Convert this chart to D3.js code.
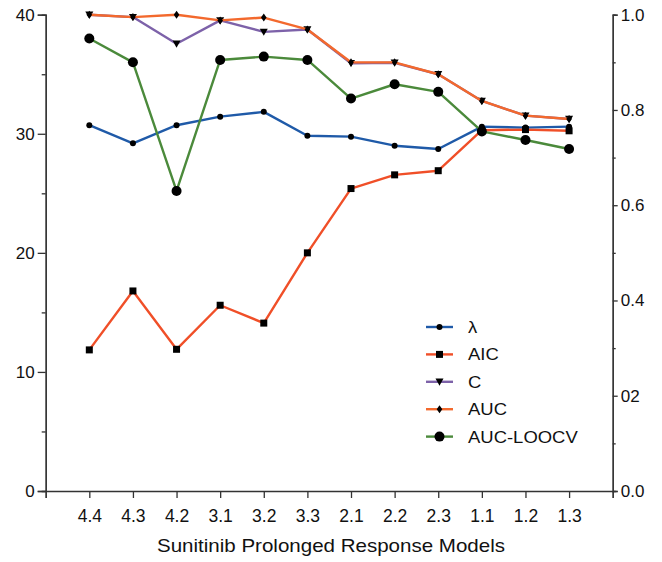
<!DOCTYPE html>
<html>
<head>
<meta charset="utf-8">
<script src="https://cdn.jsdelivr.net/npm/d3@7"></script>
<style>
  body { margin: 0; background: #fff; }
  text { font-family: "Liberation Sans", Arial, sans-serif; fill: #111; }
</style>
</head>
<body>
<svg width="662" height="562"></svg>
<script>
var models = ["4.4", "4.3", "4.2", "3.1", "3.2", "3.3", "2.1", "2.2", "2.3", "1.1", "1.2", "1.3"];

// left axis (AIC)
var aic = [11.85, 16.8, 11.9, 15.6, 14.1, 20.0, 25.4, 26.55, 26.9, 30.3, 30.35, 30.25];
// right axis (0-1)
var lambda = [0.768, 0.730, 0.768, 0.786, 0.796, 0.746, 0.744, 0.725, 0.718, 0.765, 0.763, 0.765];
var cIndex = [1.0, 0.995, 0.939, 0.988, 0.964, 0.969, 0.898, 0.899, 0.875, 0.819, 0.788, 0.781];
var auc = [1.0, 0.995, 1.0, 0.988, 0.994, 0.969, 0.900, 0.900, 0.875, 0.819, 0.788, 0.781];
var aucLoocv = [0.950, 0.900, 0.630, 0.905, 0.912, 0.905, 0.824, 0.854, 0.838, 0.755, 0.737, 0.718];

var leftTicks = [0, 10, 20, 30, 40];
var rightTicks = [0, 0.2, 0.4, 0.6, 0.8, 1.0];
var rightTickLabels = ["0.0", "02", "0.4", "0.6", "0.8", "1.0"];

var series = [
  {name: "λ", values: lambda, axis: "right", color: "#1f5aa8", marker: "circle", size: 3},
  {name: "AIC", values: aic, axis: "left", color: "#f04f28", marker: "square", size: 7},
  {name: "C", values: cIndex, axis: "right", color: "#7d62a9", marker: "triangle", size: 8},
  {name: "AUC", values: auc, axis: "right", color: "#f3692d", marker: "diamond", size: 4},
  {name: "AUC-LOOCV", values: aucLoocv, axis: "right", color: "#4b8a3b", marker: "circle", size: 5}
];

var svg = d3.select("svg");
var x0 = 45.7, x1 = 612.7, yTop = 14.7, yBot = 491;

var x = d3.scaleLinear().domain([0, models.length + 1]).range([x0, x1]);
var yL = d3.scaleLinear().domain([0, 40]).range([yBot, yTop]);
var yR = d3.scaleLinear().domain([0, 1]).range([yBot, yTop]);

var axisColor = "#333";

// left axis
var gL = svg.append("g").attr("transform", "translate(" + x0 + ",0)");
gL.call(d3.axisLeft(yL).tickValues(leftTicks).tickSize(8).tickPadding(3).tickFormat(d3.format("d")));
gL.append("g").call(d3.axisLeft(yL).tickValues(d3.range(5, 40, 10)).tickSize(4).tickFormat(""));

// right axis
var gR = svg.append("g").attr("transform", "translate(" + x1 + ",0)");
gR.call(d3.axisRight(yR).tickValues(rightTicks).tickSize(5).tickPadding(3)
  .tickFormat(function(d, i) { return rightTickLabels[i]; }));
gR.append("g").call(d3.axisRight(yR).tickValues(d3.range(0.1, 1, 0.2)).tickSize(3).tickFormat(""));

// bottom axis
var gB = svg.append("g").attr("transform", "translate(0," + yBot + ")");
gB.call(d3.axisBottom(x).tickValues(d3.range(0, models.length + 2)).tickSize(7).tickPadding(12)
  .tickFormat(function(d) { return (d >= 1 && d <= models.length) ? models[d - 1] : ""; }));

svg.selectAll(".domain").attr("stroke", axisColor).attr("stroke-width", 1.3);
svg.selectAll(".tick line").attr("stroke", axisColor).attr("stroke-width", 1.3);
svg.selectAll(".tick text").style("font-family", "Liberation Sans, Arial, sans-serif").attr("fill", "#111");
gL.selectAll(".tick text").style("font-size", "17px");
gR.selectAll(".tick text").style("font-size", "17px");
gB.selectAll(".tick text").style("font-size", "17.5px");

svg.append("text")
  .attr("x", 157).attr("y", 552)
  .attr("textLength", 348)
  .attr("lengthAdjust", "spacingAndGlyphs")
  .style("font-size", "18.5px")
  .text("Sunitinib Prolonged Response Models");

function markerPath(type, s) {
  if (type === "square") return "M" + (-s / 2) + "," + (-s / 2) + "h" + s + "v" + s + "h" + (-s) + "Z";
  if (type === "triangle") return "M" + (-s / 2) + "," + (-s * 0.4) + "L" + (s / 2) + "," + (-s * 0.4) + "L0," + (s * 0.5) + "Z";
  if (type === "diamond") return "M0," + (-s) + "L" + (s * 0.7) + ",0L0," + s + "L" + (-s * 0.7) + ",0Z";
  return d3.arc()({innerRadius: 0, outerRadius: s, startAngle: 0, endAngle: 2 * Math.PI});
}

var line = d3.line();

series.forEach(function(s) {
  var y = s.axis === "left" ? yL : yR;
  var pts = s.values.map(function(v, i) { return [x(i + 1), y(v)]; });
  var g = svg.append("g");
  g.append("path")
    .attr("d", line(pts))
    .attr("fill", "none")
    .attr("stroke", s.color)
    .attr("stroke-width", 2.4)
    .attr("stroke-linejoin", "round");
  g.selectAll("path.m")
    .data(pts)
    .enter().append("path")
    .attr("class", "m")
    .attr("transform", function(d) { return "translate(" + d[0] + "," + d[1] + ")"; })
    .attr("d", markerPath(s.marker, s.size))
    .attr("fill", "#000");
});

// legend
var legend = svg.append("g").attr("transform", "translate(426,327)");
var item = legend.selectAll("g")
  .data(series)
  .enter().append("g")
  .attr("transform", function(d, i) { return "translate(0," + (i * 27.4) + ")"; });
item.append("line")
  .attr("x1", 0).attr("x2", 27)
  .attr("stroke", function(d) { return d.color; })
  .attr("stroke-width", 2.4);
item.append("path")
  .attr("transform", "translate(13.5,0)")
  .attr("d", function(d) { return markerPath(d.marker, d.size); })
  .attr("fill", "#000");
item.append("text")
  .attr("transform", "translate(42,6) scale(1.12,1)")
  .style("font-size", "16.5px")
  .text(function(d) { return d.name; });
</script>
</body>
</html>
